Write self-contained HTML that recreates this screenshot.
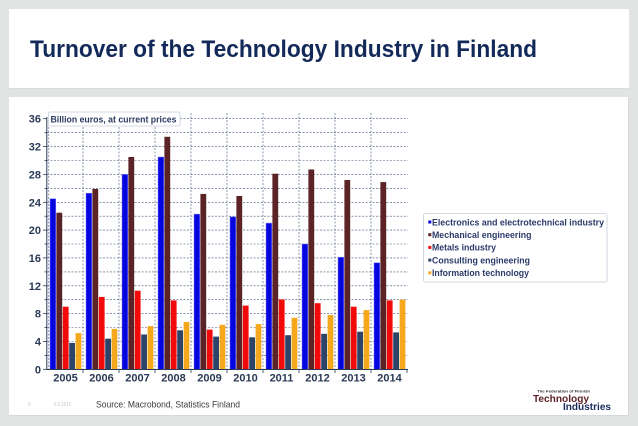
<!DOCTYPE html>
<html>
<head>
<meta charset="utf-8">
<style>
html,body{margin:0;padding:0;background:#e1e4e3;}
svg{display:block;}
text{font-family:"Liberation Sans",Arial,sans-serif;}
</style>
</head>
<body>
<svg width="638" height="426" viewBox="0 0 638 426" xmlns="http://www.w3.org/2000/svg">
<rect x="0" y="0" width="638" height="426" fill="#e1e4e3"/>
<!-- panels -->
<rect x="9" y="10" width="620" height="79" fill="#d9dddc"/>
<rect x="9" y="9" width="620" height="79" fill="#ffffff"/>
<rect x="9" y="98" width="620" height="318" fill="#d6dada"/>
<rect x="9" y="97" width="619" height="318" fill="#ffffff"/>

<!-- title -->
<text x="30" y="57" font-size="24" font-weight="bold" fill="#12295a" textLength="507" lengthAdjust="spacingAndGlyphs">Turnover of the Technology Industry in Finland</text>

<!-- horizontal gridlines -->
<g stroke="#44557a" stroke-width="0.6" stroke-dasharray="2 1.5">
<line x1="47" x2="408" y1="355.4" y2="355.4"/>
<line x1="47" x2="408" y1="341.5" y2="341.5"/>
<line x1="47" x2="408" y1="327.5" y2="327.5"/>
<line x1="47" x2="408" y1="313.6" y2="313.6"/>
<line x1="47" x2="408" y1="299.7" y2="299.7"/>
<line x1="47" x2="408" y1="285.8" y2="285.8"/>
<line x1="47" x2="408" y1="271.9" y2="271.9"/>
<line x1="47" x2="408" y1="257.9" y2="257.9"/>
<line x1="47" x2="408" y1="244.0" y2="244.0"/>
<line x1="47" x2="408" y1="230.1" y2="230.1"/>
<line x1="47" x2="408" y1="216.2" y2="216.2"/>
<line x1="47" x2="408" y1="202.3" y2="202.3"/>
<line x1="47" x2="408" y1="188.4" y2="188.4"/>
<line x1="47" x2="408" y1="174.4" y2="174.4"/>
<line x1="47" x2="408" y1="160.5" y2="160.5"/>
<line x1="47" x2="408" y1="146.6" y2="146.6"/>
<line x1="47" x2="408" y1="132.7" y2="132.7"/>
<line x1="180" x2="408" y1="118.7" y2="118.7"/>
</g>
<!-- vertical gridlines -->
<g stroke="#44557a" stroke-width="0.6" stroke-dasharray="2 1.5">
<line x1="48.8" x2="48.8" y1="127" y2="369"/>
<line x1="83" x2="83" y1="127" y2="369"/>
<line x1="119" x2="119" y1="127" y2="369"/>
<line x1="155" x2="155" y1="127" y2="369"/>
<line x1="191" x2="191" y1="113" y2="369"/>
<line x1="227" x2="227" y1="113" y2="369"/>
<line x1="263" x2="263" y1="113" y2="369"/>
<line x1="299" x2="299" y1="113" y2="369"/>
<line x1="335" x2="335" y1="113" y2="369"/>
<line x1="371" x2="371" y1="113" y2="369"/>
</g>

<!-- bars -->
<g stroke-width="0.5">
<g transform="translate(47,0)">
<rect x="3" y="198.8" width="5.8" height="170.5" fill="#0505e0" stroke="#7a7aff"/>
<rect x="9.4" y="212.7" width="5.8" height="156.6" fill="#5b2325"/>
<rect x="15.8" y="306.7" width="5.8" height="62.6" fill="#f00a0a"/>
<rect x="22.2" y="342.9" width="5.8" height="26.4" fill="#2c4468"/>
<rect x="28.6" y="333.1" width="5.8" height="36.2" fill="#f5a81e"/>
</g>
<g transform="translate(83,0)">
<rect x="3" y="193.2" width="5.8" height="176.1" fill="#0505e0" stroke="#7a7aff"/>
<rect x="9.4" y="189.0" width="5.8" height="180.3" fill="#5b2325"/>
<rect x="15.8" y="296.9" width="5.8" height="72.4" fill="#f00a0a"/>
<rect x="22.2" y="338.7" width="5.8" height="30.6" fill="#2c4468"/>
<rect x="28.6" y="328.9" width="5.8" height="40.4" fill="#f5a81e"/>
</g>
<g transform="translate(119,0)">
<rect x="3" y="174.4" width="5.8" height="194.9" fill="#0505e0" stroke="#7a7aff"/>
<rect x="9.4" y="157.0" width="5.8" height="212.3" fill="#5b2325"/>
<rect x="15.8" y="290.7" width="5.8" height="78.6" fill="#f00a0a"/>
<rect x="22.2" y="334.5" width="5.8" height="34.8" fill="#2c4468"/>
<rect x="28.6" y="326.1" width="5.8" height="43.2" fill="#f5a81e"/>
</g>
<g transform="translate(155,0)">
<rect x="3" y="157.0" width="5.8" height="212.3" fill="#0505e0" stroke="#7a7aff"/>
<rect x="9.4" y="136.8" width="5.8" height="232.5" fill="#5b2325"/>
<rect x="15.8" y="300.4" width="5.8" height="68.9" fill="#f00a0a"/>
<rect x="22.2" y="330.3" width="5.8" height="39.0" fill="#2c4468"/>
<rect x="28.6" y="322.0" width="5.8" height="47.3" fill="#f5a81e"/>
</g>
<g transform="translate(191,0)">
<rect x="3" y="214.1" width="5.8" height="155.2" fill="#0505e0" stroke="#7a7aff"/>
<rect x="9.4" y="193.9" width="5.8" height="175.4" fill="#5b2325"/>
<rect x="15.8" y="329.6" width="5.8" height="39.7" fill="#f00a0a"/>
<rect x="22.2" y="336.6" width="5.8" height="32.7" fill="#2c4468"/>
<rect x="28.6" y="324.8" width="5.8" height="44.5" fill="#f5a81e"/>
</g>
<g transform="translate(227,0)">
<rect x="3" y="216.9" width="5.8" height="152.4" fill="#0505e0" stroke="#7a7aff"/>
<rect x="9.4" y="196.0" width="5.8" height="173.3" fill="#5b2325"/>
<rect x="15.8" y="305.6" width="5.8" height="63.7" fill="#f00a0a"/>
<rect x="22.2" y="337.3" width="5.8" height="32.0" fill="#2c4468"/>
<rect x="28.6" y="324.1" width="5.8" height="45.2" fill="#f5a81e"/>
</g>
<g transform="translate(263,0)">
<rect x="3" y="223.1" width="5.8" height="146.2" fill="#0505e0" stroke="#7a7aff"/>
<rect x="9.4" y="173.7" width="5.8" height="195.6" fill="#5b2325"/>
<rect x="15.8" y="299.4" width="5.8" height="69.9" fill="#f00a0a"/>
<rect x="22.2" y="335.2" width="5.8" height="34.1" fill="#2c4468"/>
<rect x="28.6" y="317.8" width="5.8" height="51.5" fill="#f5a81e"/>
</g>
<g transform="translate(299,0)">
<rect x="3" y="244.0" width="5.8" height="125.3" fill="#0505e0" stroke="#7a7aff"/>
<rect x="9.4" y="169.5" width="5.8" height="199.8" fill="#5b2325"/>
<rect x="15.8" y="303.2" width="5.8" height="66.1" fill="#f00a0a"/>
<rect x="22.2" y="333.8" width="5.8" height="35.5" fill="#2c4468"/>
<rect x="28.6" y="315.0" width="5.8" height="54.3" fill="#f5a81e"/>
</g>
<g transform="translate(335,0)">
<rect x="3" y="257.2" width="5.8" height="112.1" fill="#0505e0" stroke="#7a7aff"/>
<rect x="9.4" y="180.0" width="5.8" height="189.3" fill="#5b2325"/>
<rect x="15.8" y="306.7" width="5.8" height="62.6" fill="#f00a0a"/>
<rect x="22.2" y="331.7" width="5.8" height="37.6" fill="#2c4468"/>
<rect x="28.6" y="310.1" width="5.8" height="59.2" fill="#f5a81e"/>
</g>
<g transform="translate(371,0)">
<rect x="3" y="262.8" width="5.8" height="106.5" fill="#0505e0" stroke="#7a7aff"/>
<rect x="9.4" y="182.1" width="5.8" height="187.2" fill="#5b2325"/>
<rect x="15.8" y="300.4" width="5.8" height="68.9" fill="#f00a0a"/>
<rect x="22.2" y="332.4" width="5.8" height="36.9" fill="#2c4468"/>
<rect x="28.6" y="299.7" width="5.8" height="69.6" fill="#f5a81e"/>
</g>
</g>

<!-- axes -->
<g stroke="#2b3a55" stroke-width="1">
<line x1="46.8" x2="46.8" y1="117" y2="369.5"/>
<line x1="46.5" x2="408" y1="369.5" y2="369.5"/>
</g>
<!-- y ticks -->
<g stroke="#2b3a55" stroke-width="0.8">
<line x1="43" x2="47" y1="369.3" y2="369.3"/>
<line x1="44.5" x2="47" y1="355.4" y2="355.4"/>
<line x1="43" x2="47" y1="341.5" y2="341.5"/>
<line x1="44.5" x2="47" y1="327.5" y2="327.5"/>
<line x1="43" x2="47" y1="313.6" y2="313.6"/>
<line x1="44.5" x2="47" y1="299.7" y2="299.7"/>
<line x1="43" x2="47" y1="285.8" y2="285.8"/>
<line x1="44.5" x2="47" y1="271.9" y2="271.9"/>
<line x1="43" x2="47" y1="257.9" y2="257.9"/>
<line x1="44.5" x2="47" y1="244.0" y2="244.0"/>
<line x1="43" x2="47" y1="230.1" y2="230.1"/>
<line x1="44.5" x2="47" y1="216.2" y2="216.2"/>
<line x1="43" x2="47" y1="202.3" y2="202.3"/>
<line x1="44.5" x2="47" y1="188.4" y2="188.4"/>
<line x1="43" x2="47" y1="174.4" y2="174.4"/>
<line x1="44.5" x2="47" y1="160.5" y2="160.5"/>
<line x1="43" x2="47" y1="146.6" y2="146.6"/>
<line x1="44.5" x2="47" y1="132.7" y2="132.7"/>
<line x1="43" x2="47" y1="118.7" y2="118.7"/>
</g>
<!-- x ticks -->
<g stroke="#2b3a55" stroke-width="0.8">
<line x1="83" x2="83" y1="369" y2="373"/>
<line x1="119" x2="119" y1="369" y2="373"/>
<line x1="155" x2="155" y1="369" y2="373"/>
<line x1="191" x2="191" y1="369" y2="373"/>
<line x1="227" x2="227" y1="369" y2="373"/>
<line x1="263" x2="263" y1="369" y2="373"/>
<line x1="299" x2="299" y1="369" y2="373"/>
<line x1="335" x2="335" y1="369" y2="373"/>
<line x1="371" x2="371" y1="369" y2="373"/>
<line x1="407" x2="407" y1="369" y2="373"/>
</g>

<!-- y labels -->
<g font-size="11" font-weight="bold" fill="#2b3a55" text-anchor="end">
<text x="41" y="373.3">0</text>
<text x="41" y="345.5">4</text>
<text x="41" y="317.6">8</text>
<text x="41" y="289.8">12</text>
<text x="41" y="261.9">16</text>
<text x="41" y="234.1">20</text>
<text x="41" y="206.3">24</text>
<text x="41" y="178.4">28</text>
<text x="41" y="150.6">32</text>
<text x="41" y="122.7">36</text>
</g>
<!-- x labels -->
<g font-size="11" font-weight="bold" fill="#2b3a55" text-anchor="middle">
<text x="65.5" y="381.5">2005</text>
<text x="101.5" y="381.5">2006</text>
<text x="137.5" y="381.5">2007</text>
<text x="173.5" y="381.5">2008</text>
<text x="209.5" y="381.5">2009</text>
<text x="245.5" y="381.5">2010</text>
<text x="281.5" y="381.5">2011</text>
<text x="317.5" y="381.5">2012</text>
<text x="353.5" y="381.5">2013</text>
<text x="389.5" y="381.5">2014</text>
</g>

<!-- unit box -->
<rect x="48.5" y="112" width="131.5" height="14" rx="1.5" fill="#ffffff" stroke="#c5cfdc" stroke-width="0.8"/>
<text x="50.5" y="122.3" font-size="9" font-weight="bold" fill="#2b3a60" textLength="126" lengthAdjust="spacingAndGlyphs">Billion euros, at current prices</text>

<!-- legend -->
<rect x="423.5" y="213.5" width="183.5" height="68.5" rx="2" fill="#ffffff" stroke="#c5cfdc" stroke-width="0.8"/>
<rect x="428.3" y="220.5" width="3" height="3" fill="#0505e0"/>
<rect x="428.3" y="233.2" width="3" height="3" fill="#5b2325"/>
<rect x="428.3" y="245.9" width="3" height="3" fill="#f00a0a"/>
<rect x="428.3" y="258.6" width="3" height="3" fill="#2c4468"/>
<rect x="428.3" y="271.3" width="3" height="3" fill="#f5a81e"/>
<g font-size="9" font-weight="bold" fill="#2b3a6a">
<text x="432" y="225.3" textLength="172" lengthAdjust="spacingAndGlyphs">Electronics and electrotechnical industry</text>
<text x="432" y="238" textLength="99.5" lengthAdjust="spacingAndGlyphs">Mechanical engineering</text>
<text x="432" y="250.7" textLength="64" lengthAdjust="spacingAndGlyphs">Metals industry</text>
<text x="432" y="263.4" textLength="98" lengthAdjust="spacingAndGlyphs">Consulting engineering</text>
<text x="432" y="276.1" textLength="97" lengthAdjust="spacingAndGlyphs">Information technology</text>
</g>

<!-- footer -->
<text x="28" y="406" font-size="5" fill="#c8c8c8">5</text>
<text x="54" y="406" font-size="5" fill="#c8c8c8" textLength="17" lengthAdjust="spacingAndGlyphs">6.6.2015</text>
<text x="96" y="407.5" font-size="9.5" fill="#3a3a3a" textLength="144" lengthAdjust="spacingAndGlyphs">Source: Macrobond, Statistics Finland</text>

<!-- logo -->
<text x="537" y="392.5" font-size="4" font-weight="bold" fill="#333" textLength="53" lengthAdjust="spacingAndGlyphs">The Federation of Finnish</text>
<text x="533" y="402" font-size="10.5" font-weight="bold" fill="#5a1e24" textLength="56" lengthAdjust="spacingAndGlyphs">Technology</text>
<text x="563" y="409.8" font-size="10" font-weight="bold" fill="#1a2a5a" textLength="48" lengthAdjust="spacingAndGlyphs">Industries</text>
</svg>
</body>
</html>
